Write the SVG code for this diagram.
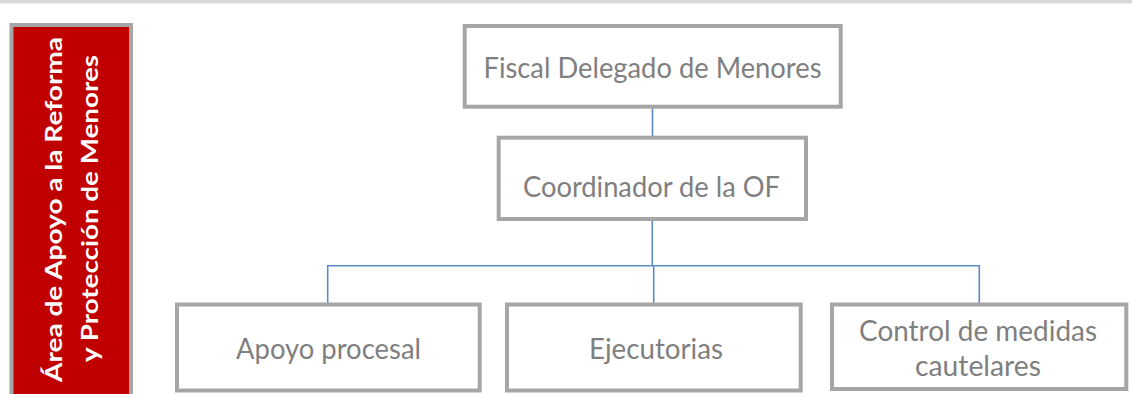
<svg xmlns="http://www.w3.org/2000/svg" width="1132" height="394" viewBox="0 0 1132 394">
  <style>
    .box { fill: #ffffff; stroke: #a6a6a6; stroke-width: 4; }
    .lbl { font-family: "Lato", "Open Sans", sans-serif; fill: #7f7f7f; text-anchor: middle; }
    .side { font-family: "Lato", "Open Sans", sans-serif; font-weight: bold; fill: #ffffff; text-anchor: middle; font-size: 22px; }
    .conn { stroke: #5b8bc7; stroke-width: 1.6; fill: none; }
  </style>
  <rect x="0" y="0" width="1132" height="394" fill="#ffffff"/>
  <rect x="0" y="0" width="1132" height="3.5" fill="#d9d9d9"/>

  <g id="side-label">
    <rect x="11.5" y="25" width="119.5" height="374" fill="#c00000" stroke="#a6a6a6" stroke-width="4"/>
    <text class="side" transform="translate(62,209.5) rotate(-90)" textLength="345" lengthAdjust="spacingAndGlyphs">Área de Apoyo a la Reforma</text>
    <text class="side" transform="translate(97.5,208.5) rotate(-90)" textLength="307" lengthAdjust="spacingAndGlyphs">y Protección de Menores</text>
  </g>

  <g id="connectors">
    <line class="conn" x1="652.5" y1="108" x2="652.5" y2="136"/>
    <line class="conn" x1="652.3" y1="221" x2="652.3" y2="266"/>
    <polyline class="conn" points="327.7,303 327.7,265.7 979.3,265.7 979.3,303"/>
    <line class="conn" x1="653.7" y1="265.7" x2="653.7" y2="303"/>
  </g>

  <g id="node-fiscal">
    <rect class="box" x="464.7" y="26" width="376" height="80.7"/>
    <text class="lbl" x="652.5" y="77.5" font-size="28.5" textLength="338" lengthAdjust="spacingAndGlyphs">Fiscal Delegado de Menores</text>
  </g>

  <g id="node-coordinador">
    <rect class="box" x="498.7" y="137.7" width="307.3" height="81.3"/>
    <text class="lbl" x="651.5" y="197" font-size="28.5" textLength="257" lengthAdjust="spacingAndGlyphs">Coordinador de la OF</text>
  </g>

  <g id="node-apoyo">
    <rect class="box" x="177" y="304.5" width="302.7" height="86"/>
    <text class="lbl" x="328.5" y="359" font-size="28.5" textLength="185" lengthAdjust="spacingAndGlyphs">Apoyo procesal</text>
  </g>

  <g id="node-ejecutorias">
    <rect class="box" x="507" y="304.5" width="293.7" height="86"/>
    <text class="lbl" x="656" y="358.5" font-size="28.5" textLength="134" lengthAdjust="spacingAndGlyphs">Ejecutorias</text>
  </g>

  <g id="node-control">
    <rect class="box" x="832" y="304.5" width="294.3" height="84.5"/>
    <text class="lbl" x="978" y="340.5" font-size="28.5" textLength="238" lengthAdjust="spacingAndGlyphs">Control de medidas</text>
    <text class="lbl" x="978" y="375.5" font-size="28.5" textLength="126" lengthAdjust="spacingAndGlyphs">cautelares</text>
  </g>
</svg>
